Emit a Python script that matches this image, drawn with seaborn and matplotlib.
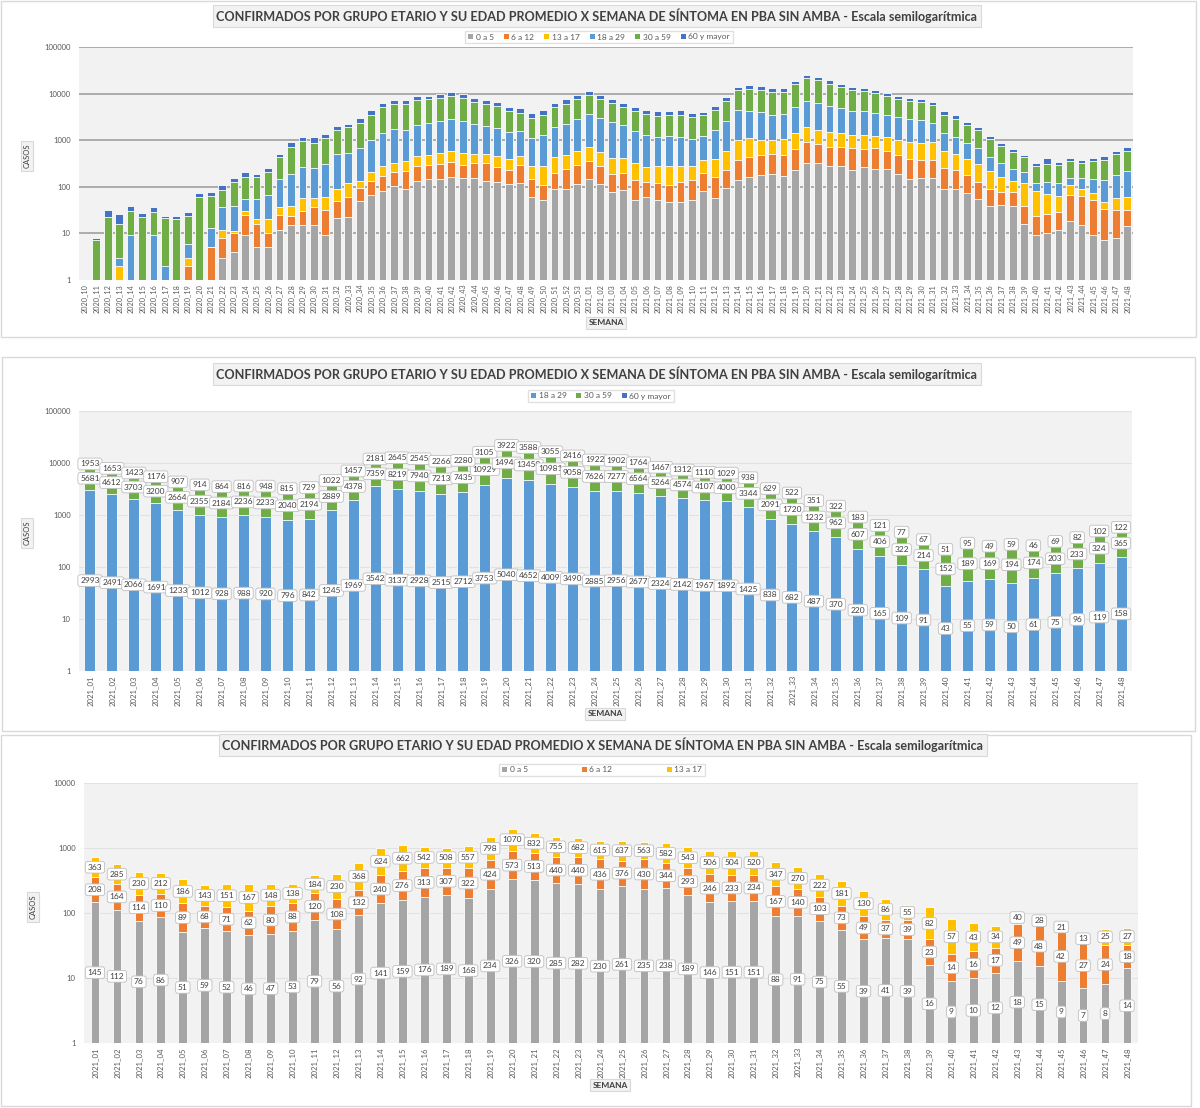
import numpy as np
import pandas as pd
import matplotlib
matplotlib.use("Agg")
import matplotlib.pyplot as plt
import seaborn as sns
from matplotlib.patches import Patch, Rectangle
from matplotlib.ticker import FixedLocator, NullLocator, FuncFormatter

# ---------------- data ----------------
TITLE = "CONFIRMADOS POR GRUPO ETARIO Y SU EDAD PROMEDIO X SEMANA DE SÍNTOMA EN PBA SIN AMBA - Escala semilogarítmica"
GROUPS = ["0 a 5", "6 a 12", "13 a 17", "18 a 29", "30 a 59", "60 y mayor"]

weeks_2020 = [f"2020_{w:02d}" for w in range(10, 54)]
weeks_2021 = [f"2021_{w:02d}" for w in range(1, 49)]

# 2020 weeks (no labels there)
g0a5_2020 = [0, 0, 0, 0, 0, 0, 0, 0, 0, 0, 0, 0, 3, 4, 9, 5, 5, 12, 15, 15, 15, 9,
             21, 22, 50, 68, 81, 103, 88, 132, 144, 144, 161, 153, 153, 132, 128,
             114, 120, 60, 53, 89, 89, 114]
g6a12_2020 = [0, 0, 0, 0, 0, 0, 0, 0, 0, 2, 0, 5, 5, 6, 16, 11, 5, 13, 8, 15, 22, 23,
              29, 39, 45, 67, 91, 100, 126, 151, 153, 168, 178, 144, 170, 186, 137,
              114, 172, 86, 56, 108, 147, 178]
g13a17_2020 = [0, 0, 0, 2, 0, 0, 0, 0, 0, 1, 0, 0, 4, 1, 5, 4, 10, 11, 16, 27, 20, 29,
               41, 57, 37, 75, 106, 125, 137, 181, 191, 209, 255, 224, 181, 186, 184,
               159, 157, 128, 165, 238, 244, 293]
g18a29_2020 = [0, 0, 0, 1, 9, 0, 9, 2, 0, 3, 0, 8, 25, 27, 25, 35, 48, 110, 148, 212,
               195, 251, 421, 412, 558, 798, 1125, 1382, 1304, 1691, 1852, 2020, 2306,
               2104, 1724, 1514, 1379, 1113, 1125, 839, 1017, 1484, 1748, 2265]
g30a59_2020 = [0, 7, 22, 13, 21, 22, 20, 19, 20, 17, 60, 49, 50, 90, 109, 105, 142, 296,
               526, 706, 632, 801, 1171, 1389, 1688, 2470, 3678, 4190, 4245, 5155, 5210,
               5659, 6010, 5575, 4282, 4077, 3517, 2740, 2326, 1935, 2243, 3162, 3867, 4700]
g60_2020 = [0, 1, 9, 10, 8, 5, 8, 2, 4, 5, 12, 16, 20, 30, 43, 30, 46, 62, 185, 195,
            286, 222, 300, 309, 572, 907, 1219, 1410, 1410, 1460, 1510, 1800, 1950, 1800,
            1430, 1335, 1165, 925, 940, 728, 851, 1114, 1455, 1960]

# 2021 weeks (data labels of the two lower charts)
g0a5_2021 = [145, 112, 76, 86, 51, 59, 52, 46, 47, 53, 79, 56, 92, 141, 159, 176, 189,
             168, 234, 326, 320, 285, 282, 230, 261, 235, 238, 189, 146, 151, 151, 88,
             91, 75, 55, 39, 41, 39, 16, 9, 10, 12, 18, 15, 9, 7, 8, 14]
g6a12_2021 = [208, 164, 114, 110, 89, 68, 71, 62, 80, 88, 120, 108, 132, 240, 276, 313,
              307, 322, 424, 573, 513, 440, 440, 436, 376, 430, 344, 293, 246, 233, 234,
              167, 140, 103, 73, 49, 37, 39, 23, 14, 16, 17, 49, 48, 42, 27, 24, 18]
g13a17_2021 = [363, 285, 230, 212, 186, 143, 151, 167, 148, 138, 184, 230, 368, 624, 662,
               542, 508, 557, 798, 1070, 832, 755, 682, 615, 637, 563, 582, 543, 506, 504,
               520, 347, 270, 222, 181, 130, 86, 55, 82, 57, 43, 34, 40, 28, 21, 13, 25, 27]
g18a29_2021 = [2993, 2491, 2066, 1691, 1233, 1012, 928, 988, 920, 796, 842, 1245, 1969,
               3542, 3137, 2928, 2515, 2712, 3753, 5040, 4652, 4009, 3490, 2885, 2956,
               2677, 2324, 2142, 1967, 1892, 1425, 838, 682, 487, 370, 220, 165, 109, 91,
               43, 55, 59, 50, 61, 75, 96, 119, 158]
g30a59_2021 = [5681, 4612, 3703, 3200, 2664, 2355, 2184, 2236, 2233, 2040, 2194, 2889,
               4378, 7359, 8219, 7940, 7213, 7435, 10929, 14946, 13450, 10981, 9058, 7626,
               7277, 6564, 5264, 4574, 4107, 4000, 3344, 2091, 1720, 1232, 962, 607, 406,
               322, 214, 152, 189, 169, 194, 174, 203, 233, 324, 365]
g60_2021 = [1953, 1653, 1423, 1176, 907, 914, 864, 816, 948, 815, 729, 1022, 1457, 2181,
            2645, 2545, 2266, 2280, 3105, 3922, 3588, 3055, 2416, 1922, 1902, 1764, 1467,
            1312, 1110, 1029, 938, 629, 522, 351, 322, 183, 121, 77, 67, 51, 95, 49, 59,
            46, 69, 82, 102, 122]

COLORS = {"0 a 5": "#A5A5A5", "6 a 12": "#ED7D31", "13 a 17": "#FFC000",
          "18 a 29": "#5B9BD5", "30 a 59": "#70AD47", "60 y mayor": "#4472C4"}

# ---------------- style ----------------
sns.set_theme(style="white")
plt.rcParams["font.family"] = ["Lato", "DejaVu Sans"]
TXT = "#404040"
TICK = "#595959"

W, H = 1200, 1108
fig = plt.figure(figsize=(W / 100, H / 100), dpi=100)
fig.patch.set_facecolor("white")


def rect(x0, y0, x1, y1):
    return [x0 / W, 1 - y1 / H, (x1 - x0) / W, (y1 - y0) / H]


def ftext(x, y, s, **kw):
    fig.text(x / W, 1 - y / H, s, **kw)


def draw_stack(ax, weeks, data, groups, width):
    df = pd.DataFrame(data, index=weeks)[groups]
    cum = df.cumsum(axis=1)
    # tallest first, each lower cumulative level drawn on top
    for g in reversed(groups):
        d = pd.DataFrame({"semana": weeks, "valor": cum[g].values})
        sns.barplot(data=d, x="semana", y="valor", order=weeks, color=COLORS[g],
                    saturation=1, width=width, edgecolor="white", linewidth=0.6,
                    errorbar=None, ax=ax)
    return df, cum


def style_axes(ax, n, ymax, grid_color, grid_lw, xfs):
    ax.set_yscale("log")
    ax.set_ylim(1, ymax)
    ax.set_xlim(-0.5, n - 0.5)
    ax.set_facecolor("#F2F2F2")
    ticks = [10 ** k for k in range(int(np.log10(ymax)) + 1)]
    ax.yaxis.set_major_locator(FixedLocator(ticks))
    ax.yaxis.set_minor_locator(NullLocator())
    ax.yaxis.set_major_formatter(FuncFormatter(lambda v, p: f"{int(round(v))}"))
    for t in ticks[1:]:
        ax.axhline(t, color=grid_color, lw=grid_lw, zorder=0.5)
    ax.set_axisbelow(True)
    for s in ax.spines.values():
        s.set_visible(False)
    ax.tick_params(axis="both", length=0, colors=TICK)
    ax.tick_params(axis="y", labelsize=5.5, pad=6)
    ax.tick_params(axis="x", labelsize=xfs, pad=3, labelrotation=90)
    ax.set_xlabel("")
    ax.set_ylabel("")


def add_labels(ax, df, cum, groups):
    for gi, g in enumerate(groups):
        for i in range(len(df)):
            v = df[g].iloc[i]
            hi = cum[g].iloc[i]
            lo = cum[groups[gi - 1]].iloc[i] if gi > 0 else 0
            lo = max(lo, 1)
            ax.text(i, np.sqrt(lo * hi), f"{v}", ha="center", va="center",
                    fontsize=6.0, color=TXT, zorder=5,
                    bbox=dict(boxstyle="round,pad=0.28", fc="white", ec="#BFBFBF", lw=0.6))


def legend(groups, cx, cy, colspace):
    handles = [Patch(facecolor=COLORS[g], edgecolor="none", label=g) for g in groups]
    fig.legend(handles=handles, loc="center", bbox_to_anchor=(cx / W, 1 - cy / H),
               ncol=len(groups), fontsize=6, frameon=True, fancybox=False,
               edgecolor="#D9D9D9", handlelength=0.6, handleheight=0.6,
               handletextpad=0.3, columnspacing=colspace, borderpad=0.35,
               labelcolor=TICK)


def boxed(x, y, s, fs, rot=0, bold=False):
    ftext(x, y, s, ha="center", va="center", fontsize=fs, rotation=rot, color=TXT,
          fontweight="bold" if bold else "normal",
          bbox=dict(boxstyle="square,pad=0.3", fc="#F2F2F2", ec="#D9D9D9", lw=0.8))


def panel_frame(x0, y0, x1, y1):
    fig.add_artist(Rectangle((x0 / W, 1 - y1 / H), (x1 - x0) / W, (y1 - y0) / H,
                             transform=fig.transFigure, fill=False, ec="#D9D9D9", lw=1))


# ---------------- panel 1: all groups, 2020_10 .. 2021_48 ----------------
panel_frame(1, 1, 1196, 337)
weeks_all = weeks_2020 + weeks_2021
data_all = {
    "0 a 5": g0a5_2020 + g0a5_2021,
    "6 a 12": g6a12_2020 + g6a12_2021,
    "13 a 17": g13a17_2020 + g13a17_2021,
    "18 a 29": g18a29_2020 + g18a29_2021,
    "30 a 59": g30a59_2020 + g30a59_2021,
    "60 y mayor": g60_2020 + g60_2021,
}
ax1 = fig.add_axes(rect(79, 47.3, 1133, 279.7))
draw_stack(ax1, weeks_all, data_all, GROUPS, 0.68)
style_axes(ax1, len(weeks_all), 1e5, "#A6A6A6", 1.3, 5.2)
boxed(597, 16, TITLE, 9.1, bold=True)
legend(GROUPS, 599, 37, 1.2)
boxed(27, 156, "CASOS", 5.5, rot=90)
boxed(606, 323, "SEMANA", 6, bold=True)

# ---------------- panel 2: adults, 2021 ----------------
panel_frame(2, 357, 1195, 731)
G2 = ["18 a 29", "30 a 59", "60 y mayor"]
data2 = {"18 a 29": g18a29_2021, "30 a 59": g30a59_2021, "60 y mayor": g60_2021}
ax2 = fig.add_axes(rect(79, 411, 1132, 671))
df2, cum2 = draw_stack(ax2, weeks_2021, data2, G2, 0.5)
style_axes(ax2, len(weeks_2021), 1e5, "#E2E2E2", 0.8, 5.6)
add_labels(ax2, df2, cum2, G2)
boxed(597, 374, TITLE, 9.1, bold=True)
legend(G2, 601, 396, 1.2)
boxed(27, 533, "CASOS", 5.5, rot=90)
boxed(605, 714, "SEMANA", 6, bold=True)

# ---------------- panel 3: children, 2021 ----------------
panel_frame(1, 735, 1191, 1106)
G3 = ["0 a 5", "6 a 12", "13 a 17"]
data3 = {"0 a 5": g0a5_2021, "6 a 12": g6a12_2021, "13 a 17": g13a17_2021}
ax3 = fig.add_axes(rect(84, 782.7, 1138, 1043))
df3, cum3 = draw_stack(ax3, weeks_2021, data3, G3, 0.4)
style_axes(ax3, len(weeks_2021), 1e4, "#E2E2E2", 0.8, 5.6)
add_labels(ax3, df3, cum3, G3)
boxed(603, 745, TITLE, 9.1, bold=True)
legend(G3, 602, 770, 6.5)
boxed(33, 907, "CASOS", 5.5, rot=90)
boxed(610, 1085, "SEMANA", 6, bold=True)

fig.savefig("out.png", dpi=100)
